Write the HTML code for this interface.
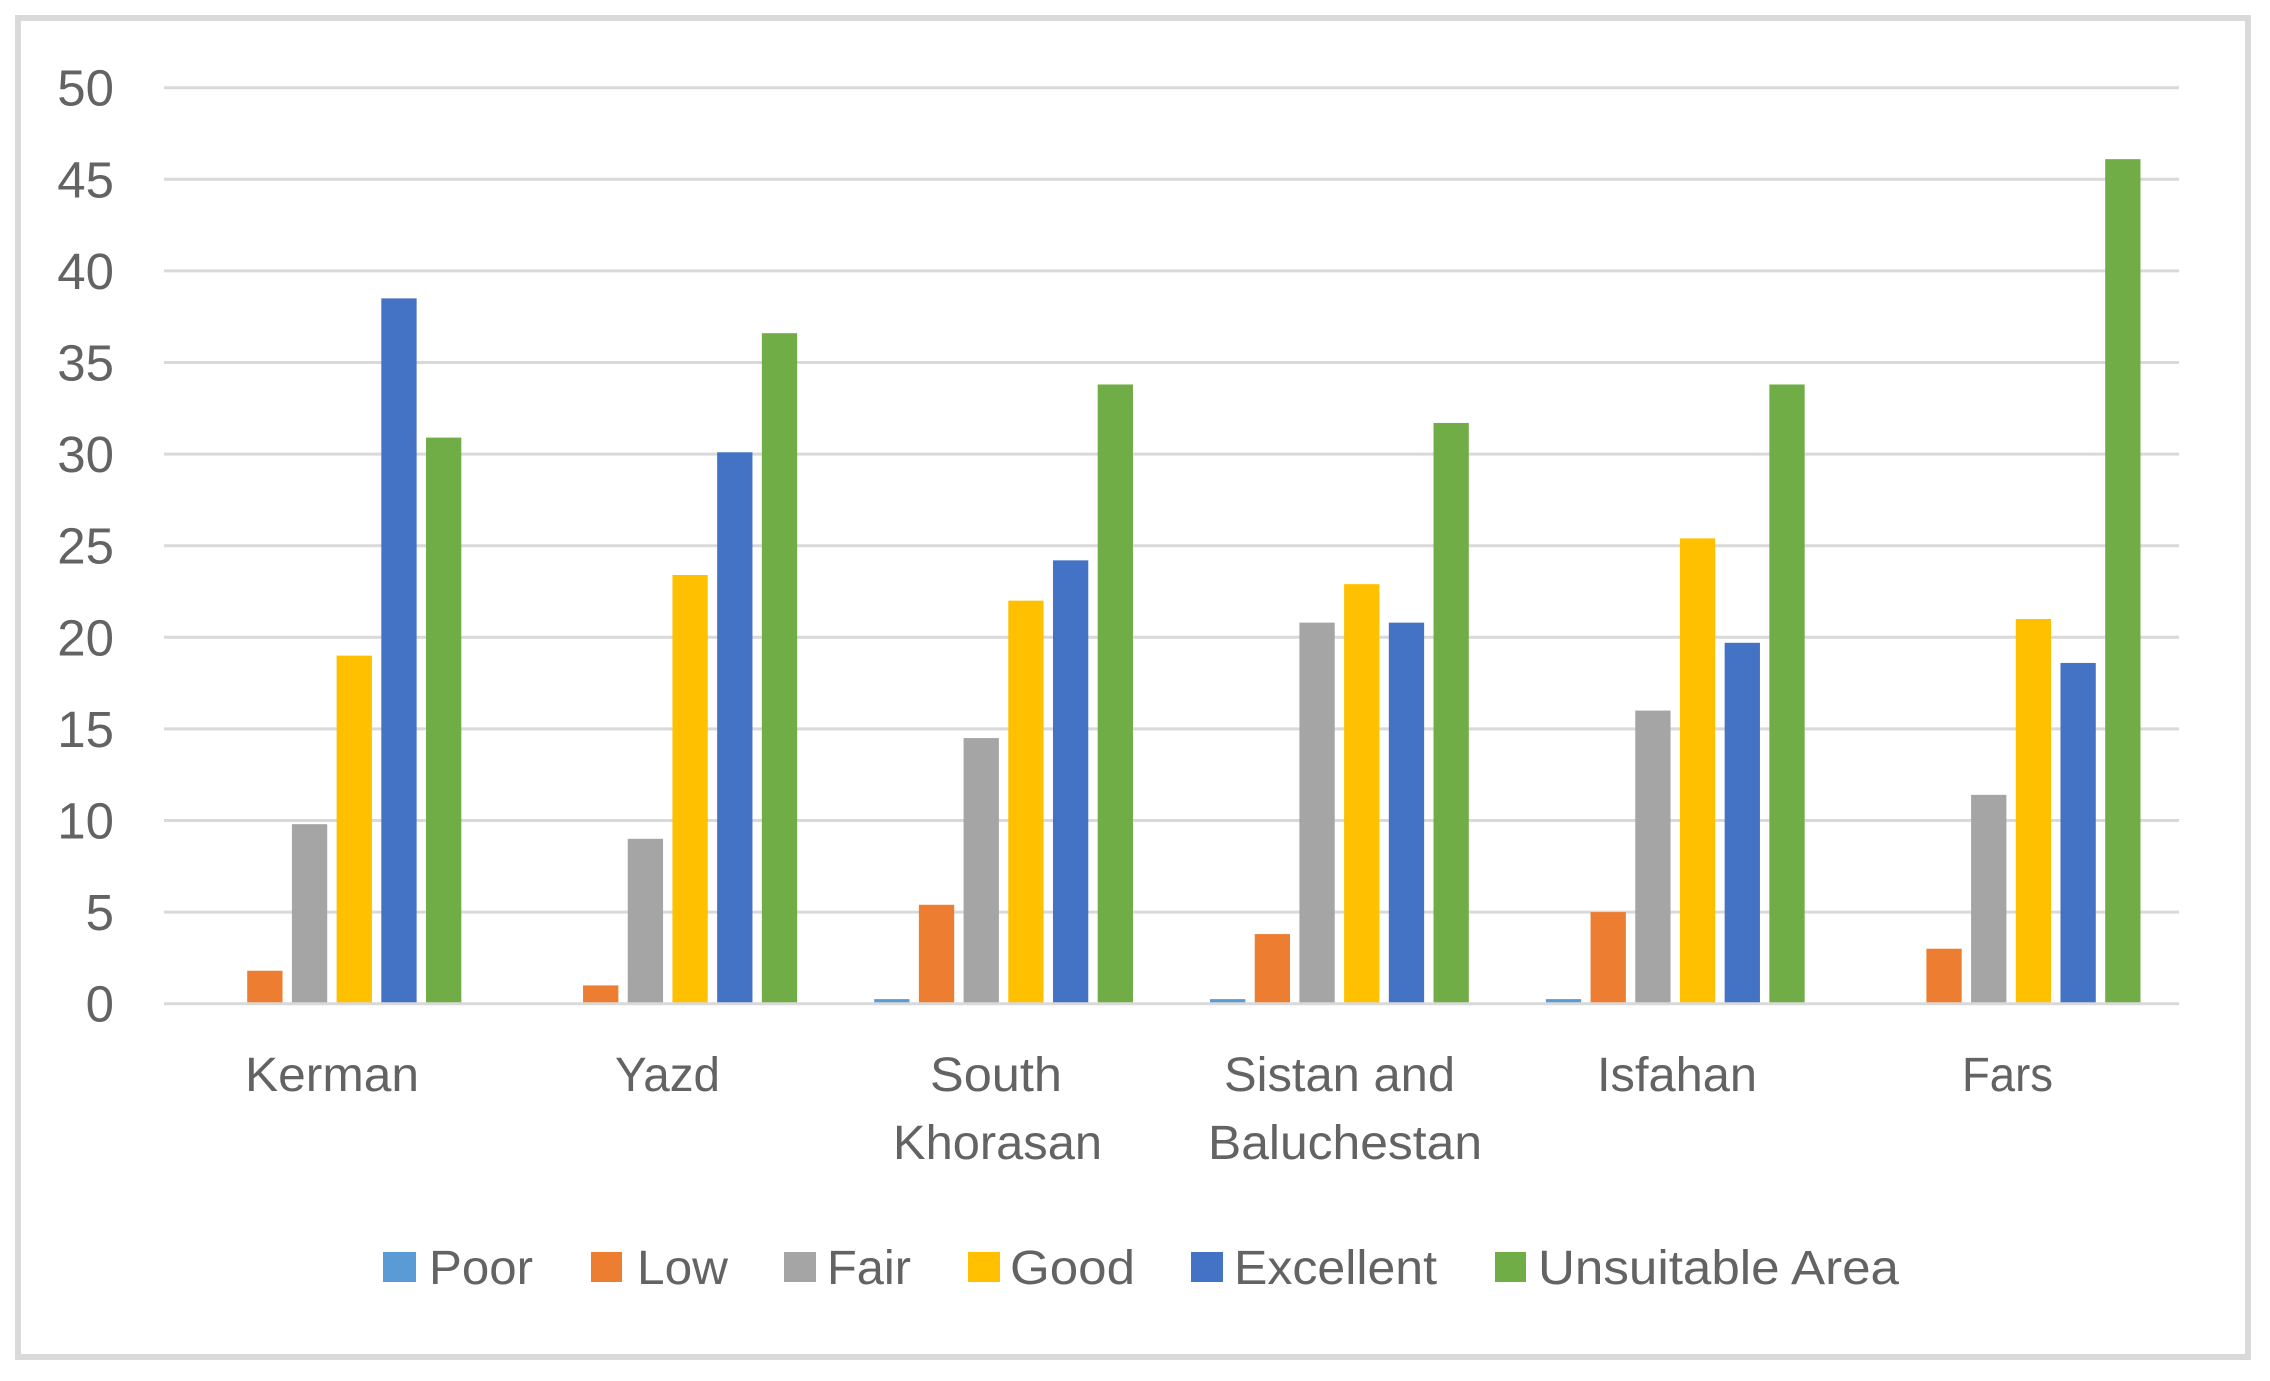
<!DOCTYPE html>
<html lang="en">
<head>
<meta charset="utf-8">
<title>Suitability by province</title>
<style>
html,body{margin:0;padding:0;background:#fff;width:2270px;height:1381px;overflow:hidden}
svg{display:block}
text{font-family:"Liberation Sans",sans-serif;fill:#636363;font-size:48px}
</style>
</head>
<body>
<svg id="chart" xmlns="http://www.w3.org/2000/svg" width="2270" height="1381" viewBox="0 0 2270 1381">
  <rect x="18" y="18" width="2230" height="1339" fill="#fff" stroke="#d9d9d9" stroke-width="6"/>
  <g id="grid"></g>
  <g id="yticks"></g>
  <g id="bars"></g>
  <g id="xaxis">
    <text x="245" y="1091" textLength="174" lengthAdjust="spacingAndGlyphs">Kerman</text>
    <text x="615" y="1091" textLength="105" lengthAdjust="spacingAndGlyphs">Yazd</text>
    <text x="930" y="1091" textLength="132" lengthAdjust="spacingAndGlyphs">South</text>
    <text x="893" y="1159" textLength="209" lengthAdjust="spacingAndGlyphs">Khorasan</text>
    <text x="1224" y="1091" textLength="231" lengthAdjust="spacingAndGlyphs">Sistan and</text>
    <text x="1208" y="1159" textLength="274" lengthAdjust="spacingAndGlyphs">Baluchestan</text>
    <text x="1597" y="1091" textLength="160" lengthAdjust="spacingAndGlyphs">Isfahan</text>
    <text x="1962" y="1091" textLength="91" lengthAdjust="spacingAndGlyphs">Fars</text>
  </g>
  <g>
    <g>
      <rect x="383" y="1252" width="33" height="30" fill="#5b9bd5"/>
      <text x="429" y="1284" textLength="104" lengthAdjust="spacingAndGlyphs">Poor</text>
    </g>
    <g>
      <rect x="591" y="1252" width="31" height="30" fill="#ed7d31"/>
      <text x="637" y="1284" textLength="91" lengthAdjust="spacingAndGlyphs">Low</text>
    </g>
    <g>
      <rect x="784" y="1252" width="32" height="30" fill="#a5a5a5"/>
      <text x="827" y="1284" textLength="84" lengthAdjust="spacingAndGlyphs">Fair</text>
    </g>
    <g>
      <rect x="968" y="1252" width="32" height="30" fill="#ffc000"/>
      <text x="1010" y="1284" textLength="125" lengthAdjust="spacingAndGlyphs">Good</text>
    </g>
    <g>
      <rect x="1191" y="1252" width="32" height="30" fill="#4472c4"/>
      <text x="1234" y="1284" textLength="203" lengthAdjust="spacingAndGlyphs">Excellent</text>
    </g>
    <g>
      <rect x="1495" y="1252" width="31" height="30" fill="#70ad47"/>
      <text x="1538" y="1284" textLength="361" lengthAdjust="spacingAndGlyphs">Unsuitable Area</text>
    </g>
  </g>
</svg>
<script>
const categories = ["Kerman", "Yazd", "South Khorasan", "Sistan and Baluchestan", "Isfahan", "Fars"];
const seriesNames = ["Poor", "Low", "Fair", "Good", "Excellent", "Unsuitable Area"];
const seriesColors = ["#5b9bd5", "#ed7d31", "#a5a5a5", "#ffc000", "#4472c4", "#70ad47"];
const poorValues = [0, 0, 0.25, 0.25, 0.25, 0];
const lowValues = [1.8, 1, 5.4, 3.8, 5, 3];
const fairValues = [9.8, 9, 14.5, 20.8, 16, 11.4];
const goodValues = [19, 23.4, 22, 22.9, 25.4, 21];
const excellentValues = [38.5, 30.1, 24.2, 20.8, 19.7, 18.6];
const unsuitableValues = [30.9, 36.6, 33.8, 31.7, 33.8, 46.1];
const tickLabels = [0, 5, 10, 15, 20, 25, 30, 35, 40, 45, 50];

const seriesValues = [poorValues, lowValues, fairValues, goodValues, excellentValues, unsuitableValues];
const NS = "http://www.w3.org/2000/svg";
const plotLeft = 164, plotRight = 2179, plotTop = 87.7, plotBottom = 1003.7, yMax = 50;
const barWidth = 35.3, barStep = 44.7;

function yScale(v) { return plotBottom - (v / yMax) * (plotBottom - plotTop); }
function bandWidth() { return (plotRight - plotLeft) / categories.length; }
function xCenter(i) { return plotLeft + bandWidth() * (i + 0.5); }
function xBar(i, s) {
  const groupWidth = barStep * seriesNames.length - (barStep - barWidth);
  return xCenter(i) - groupWidth / 2 + s * barStep;
}
function slug(t) { return t.toLowerCase().replace(/[^a-z0-9]+/g, "-"); }

const grid = document.getElementById("grid");
const yticks = document.getElementById("yticks");
const bars = document.getElementById("bars");
const xaxis = document.getElementById("xaxis");

tickLabels.forEach(function (t) {
  if (t !== 0) {
    const line = document.createElementNS(NS, "line");
    
    
    line.setAttribute("x1", plotLeft);
    line.setAttribute("x2", plotRight);
    line.setAttribute("y1", yScale(t));
    line.setAttribute("y2", yScale(t));
    line.setAttribute("stroke", "#d9d9d9");
    line.setAttribute("stroke-width", "3");
    grid.appendChild(line);
  }
  const label = document.createElementNS(NS, "text");
  
  
  label.setAttribute("x", 114);
  label.setAttribute("y", yScale(t) + 18);
  label.setAttribute("text-anchor", "end");
  label.style.fontSize = "51px";
  label.textContent = t;
  yticks.appendChild(label);
});

seriesValues.forEach(function (values, s) {
  values.forEach(function (v, i) {
    if (v <= 0) return;
    const bar = document.createElementNS(NS, "rect");
    
    
    bar.setAttribute("x", xBar(i, s));
    bar.setAttribute("y", yScale(v));
    bar.setAttribute("width", barWidth);
    bar.setAttribute("height", plotBottom - 1 - yScale(v));
    bar.setAttribute("fill", seriesColors[s]);
    bars.appendChild(bar);
  });
});

const axisLine = document.createElementNS(NS, "line");


axisLine.setAttribute("x1", plotLeft);
axisLine.setAttribute("x2", plotRight);
axisLine.setAttribute("y1", plotBottom);
axisLine.setAttribute("y2", plotBottom);
axisLine.setAttribute("stroke", "#d9d9d9");
axisLine.setAttribute("stroke-width", "3");
xaxis.appendChild(axisLine);
</script>
</body>
</html>
